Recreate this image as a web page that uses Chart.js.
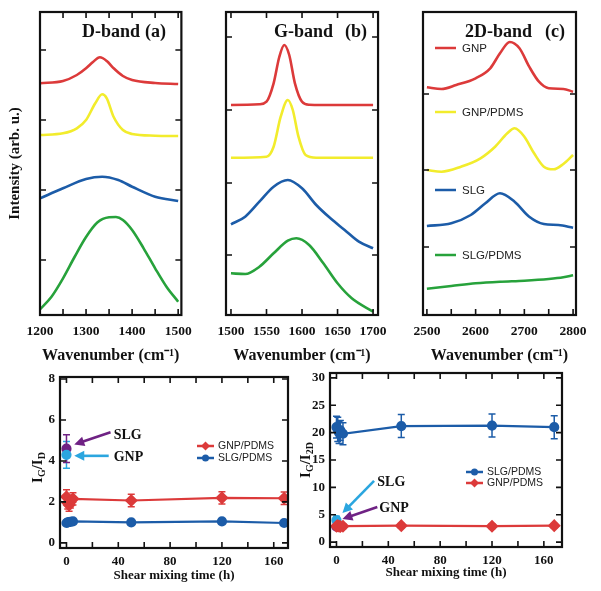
<!DOCTYPE html>
<html>
<head>
<meta charset="utf-8">
<script src="https://cdn.jsdelivr.net/npm/chart.js@4.4.1/dist/chart.umd.min.js"></script>
<style>
  body { margin: 0; background: #fff; }
  #wrap { position: relative; width: 601px; height: 591px; background: #fff; }
  canvas { position: absolute; }
</style>
</head>
<body>
<div id="wrap">
  <canvas id="chA" width="200" height="372" style="left:0;top:0"></canvas>
  <canvas id="chB" width="190" height="372" style="left:205px;top:0"></canvas>
  <canvas id="chC" width="201" height="372" style="left:400px;top:0"></canvas>
  <canvas id="chD" width="300" height="231" style="left:0;top:360px"></canvas>
  <canvas id="chE" width="311" height="231" style="left:290px;top:360px"></canvas>
</div>
<script>
/* Raman spectra + intensity ratios */
var serif = "'Liberation Serif', 'Times New Roman', serif";
var sans = "'Liberation Sans', Arial, sans-serif";

// colors
var cRed = "#dc3a3a", cYellow = "#f2ec2c", cBlue = "#1c5ca8", cGreen = "#27a23b";
var cPurple = "#6f2284", cLight = "#2ba6df";

// D band (intensity in arb. u.)
var dRedX = [1200, 1250, 1280, 1300, 1315, 1330, 1345, 1360, 1380, 1400, 1450, 1500];
var dRedY = [231.7, 234, 240, 246.7, 253, 257.7, 254, 246.7, 239, 235, 232, 231];
var dYelX = [1200, 1250, 1280, 1300, 1320, 1335, 1345, 1360, 1380, 1400, 1450, 1500];
var dYelY = [180, 181.7, 186.7, 195, 211.7, 220.7, 216.7, 198, 185, 181, 179.3, 179];
var dBluX = [1200, 1250, 1300, 1335, 1370, 1400, 1450, 1500];
var dBluY = [116.7, 126.7, 136, 138.3, 135, 128.3, 118.3, 114];
var dGrnX = [1200, 1225, 1250, 1275, 1300, 1325, 1350, 1365, 1380, 1400, 1425, 1450, 1475, 1500];
var dGrnY = [5.7, 18.3, 36.7, 58, 78, 92.7, 97.7, 98, 95, 85, 66.7, 46.7, 28, 13.3];

// G band
var gRedX = [1500, 1540, 1550, 1560, 1568, 1575, 1582, 1590, 1600, 1610, 1650, 1700];
var gRedY = [210, 210.7, 213.3, 231.7, 258, 270, 260, 231.7, 213.3, 210.3, 210, 210];
var gYelX = [1500, 1550, 1560, 1570, 1580, 1587, 1595, 1605, 1620, 1700];
var gYelY = [157.3, 158.3, 168.3, 198.3, 215, 205, 178.3, 160, 157.3, 157.3];
var gBluX = [1500, 1520, 1540, 1560, 1580, 1600, 1620, 1640, 1660, 1680, 1700];
var gBluY = [90.7, 98.3, 113.3, 128.3, 135, 126.7, 110, 96.7, 85, 73.3, 66.7];
var gGrnX = [1500, 1520, 1540, 1560, 1580, 1592, 1610, 1630, 1650, 1670, 1700];
var gGrnY = [41.7, 41, 48.3, 61.7, 74.3, 76.7, 70, 51.7, 31.7, 16.7, 3.3];

// 2D band
var tRedX = [2500, 2530, 2560, 2600, 2630, 2650, 2670, 2690, 2710, 2730, 2750, 2780, 2800];
var tRedY = [227.7, 226, 230, 236.7, 246.7, 261.7, 273, 266.7, 248.3, 233.3, 226.7, 226, 223.3];
var tYelX = [2500, 2530, 2570, 2610, 2640, 2665, 2680, 2700, 2720, 2740, 2760, 2780, 2800];
var tYelY = [145, 143.3, 148.3, 156.7, 168.3, 181.7, 186.7, 178.3, 161.7, 148.3, 145.7, 151, 160];
var tBluX = [2500, 2550, 2590, 2620, 2650, 2680, 2710, 2740, 2770, 2800];
var tBluY = [89, 91.7, 100, 111.7, 121.7, 113.3, 98.3, 91, 90, 87.3];
var tGrnX = [2500, 2550, 2600, 2650, 2700, 2750, 2780, 2800];
var tGrnY = [26.3, 29, 31.7, 33.3, 34.3, 36, 37.7, 39.7];

var specNames = ["GNP", "GNP/PDMS", "SLG", "SLG/PDMS"];

// axis ticks
var aXTicks = [1200, 1250, 1300, 1350, 1400, 1450, 1500];
var bXTicks = [1500, 1550, 1600, 1650, 1700];
var cXTicks = [2500, 2550, 2600, 2650, 2700, 2750, 2800];
var aYTicks = [55, 125, 195, 265];
var bYTicks = [60, 132, 205, 278];
var cYTicks = [68, 145, 221];
var timeTicks = [0, 20, 40, 60, 80, 100, 120, 140, 160];
var dYTicks = [0, 2, 4, 6, 8];
var eYTicks = [0, 5, 10, 15, 20, 25, 30];

// ratio data: shear mixing time (h)
var mixTime = [0, 1, 2, 3, 5, 50, 120, 168];
// (d) IG/ID
var dGnpPdms = [2.25, 1.95, 1.85, 2.0, 2.15, 2.07, 2.2, 2.18];
var dGnpPdmsErr = [0.35, 0.3, 0.3, 0.3, 0.3, 0.3, 0.3, 0.3];
var dSlgPdms = [0.97, 1.0, 1.02, 1.03, 1.05, 1.0, 1.05, 0.97];
var dSlgPdmsErr = [0.1, 0.1, 0.1, 0.1, 0.1, 0.1, 0.1, 0.1];
var dSlg = [4.6], dSlgErr = [0.68];
var dGnp = [4.3], dGnpErr = [0.65];
// (e) IG/I2D
var eSlgPdms = [21.0, 20.6, 20.0, 20.4, 19.8, 21.2, 21.3, 21.0];
var eSlgPdmsErr = [2.0, 2.2, 2.0, 1.8, 2.0, 2.1, 2.1, 2.1];
var eGnpPdms = [2.9, 3.0, 2.9, 2.85, 2.9, 3.0, 2.9, 3.0];
var eGnpPdmsErr = [0.4, 0.4, 0.4, 0.4, 0.4, 0.4, 0.4, 0.4];
var eSlg = [4.0], eSlgErr = [0.7];
var eGnp = [2.8], eGnpErr = [0.4];

function pts(xs, ys) {
  return xs.map(function (x, i) { return { x: x, y: ys[i] }; });
}

function setTicks(vals) {
  return function (s) { s.ticks = vals.map(function (v) { return { value: v }; }); };
}

// box + inward tick marks on every side
var framePlugin = {
  id: "frame",
  afterDraw: function (chart) {
    var a = chart.chartArea, ctx = chart.ctx;
    var xs = chart.scales.x, ys = chart.scales.y;
    var noTop = chart.canvas.id === "chC";
    ctx.save();
    ctx.strokeStyle = "#111";
    ctx.lineWidth = 1.6;
    ctx.beginPath();
    xs.ticks.forEach(function (t) {
      var px = xs.getPixelForValue(t.value);
      ctx.moveTo(px, a.bottom); ctx.lineTo(px, a.bottom - 6);
      if (!noTop) { ctx.moveTo(px, a.top); ctx.lineTo(px, a.top + 6); }
    });
    ys.ticks.forEach(function (t) {
      var py = ys.getPixelForValue(t.value);
      ctx.moveTo(a.left, py); ctx.lineTo(a.left + 6, py);
      ctx.moveTo(a.right, py); ctx.lineTo(a.right - 6, py);
    });
    ctx.stroke();
    ctx.lineWidth = 2.2;
    ctx.strokeRect(a.left, a.top, a.right - a.left, a.bottom - a.top);
    ctx.restore();
  }
};

var errorBars = {
  id: "errorBars",
  beforeDatasetsDraw: function (chart) {
    var ctx = chart.ctx, ys = chart.scales.y;
    chart.data.datasets.forEach(function (ds, i) {
      if (!ds.errors) return;
      var meta = chart.getDatasetMeta(i);
      ctx.save();
      ctx.strokeStyle = ds.borderColor;
      ctx.lineWidth = 1.5;
      ctx.beginPath();
      meta.data.forEach(function (pt, j) {
        var v = ds.data[j].y, e = ds.errors[j];
        var y1 = ys.getPixelForValue(v + e), y2 = ys.getPixelForValue(v - e);
        ctx.moveTo(pt.x, y1); ctx.lineTo(pt.x, y2);
        ctx.moveTo(pt.x - 3.5, y1); ctx.lineTo(pt.x + 3.5, y1);
        ctx.moveTo(pt.x - 3.5, y2); ctx.lineTo(pt.x + 3.5, y2);
      });
      ctx.stroke();
      ctx.restore();
    });
  }
};

function arrow(chart, x1, y1, x2, y2, color) {
  var ctx = chart.ctx, xs = chart.scales.x, ys = chart.scales.y;
  var ax = xs.getPixelForValue(x1), ay = ys.getPixelForValue(y1);
  var bx = xs.getPixelForValue(x2), by = ys.getPixelForValue(y2);
  var ang = Math.atan2(by - ay, bx - ax);
  ctx.save();
  ctx.strokeStyle = color; ctx.fillStyle = color; ctx.lineWidth = 2.6;
  ctx.beginPath();
  ctx.moveTo(ax, ay);
  ctx.lineTo(bx - 7 * Math.cos(ang), by - 7 * Math.sin(ang));
  ctx.stroke();
  ctx.beginPath();
  ctx.moveTo(bx, by);
  ctx.lineTo(bx - 10 * Math.cos(ang) + 5 * Math.sin(ang), by - 10 * Math.sin(ang) - 5 * Math.cos(ang));
  ctx.lineTo(bx - 10 * Math.cos(ang) - 5 * Math.sin(ang), by - 10 * Math.sin(ang) + 5 * Math.cos(ang));
  ctx.closePath();
  ctx.fill();
  ctx.restore();
}

function text(ctx, s, x, y, font, color, align) {
  ctx.save();
  ctx.font = font;
  ctx.fillStyle = color || "#111";
  ctx.textAlign = align || "left";
  ctx.textBaseline = "alphabetic";
  ctx.fillText(s, x, y);
  ctx.restore();
}

// rotated title with subscripts, e.g. I_G / I_D
function subTitle(ctx, cx, cy, parts) {
  var big = "bold 15px " + serif, small = "bold 10px " + serif;
  ctx.save();
  ctx.translate(cx, cy);
  ctx.rotate(-Math.PI / 2);
  var w = 0;
  parts.forEach(function (p) { ctx.font = p[1] ? small : big; w += ctx.measureText(p[0]).width; });
  var x = -w / 2;
  ctx.fillStyle = "#111";
  ctx.textBaseline = "middle";
  parts.forEach(function (p) {
    ctx.font = p[1] ? small : big;
    ctx.fillText(p[0], x, p[1] ? 4 : 0);
    x += ctx.measureText(p[0]).width;
  });
  ctx.restore();
}

function legendRow(ctx, x, y, color, label, marker, size) {
  ctx.save();
  ctx.strokeStyle = color; ctx.fillStyle = color; ctx.lineWidth = 2.5;
  ctx.beginPath(); ctx.moveTo(x, y); ctx.lineTo(x + (marker ? 17 : 21), y); ctx.stroke();
  if (marker === "circle") {
    ctx.beginPath(); ctx.arc(x + 8.5, y, 3.5, 0, Math.PI * 2); ctx.fill();
  } else if (marker === "diamond") {
    ctx.beginPath();
    ctx.moveTo(x + 8.5, y - 4.5); ctx.lineTo(x + 13, y); ctx.lineTo(x + 8.5, y + 4.5); ctx.lineTo(x + 4, y);
    ctx.closePath(); ctx.fill();
  }
  ctx.font = size + "px " + sans;
  ctx.fillStyle = "#222";
  ctx.textBaseline = "middle";
  ctx.fillText(label, x + (marker ? 21 : 27), y + 0.5);
  ctx.restore();
}

function specSet(xs, ys, color) {
  return {
    data: pts(xs, ys), borderColor: color, borderWidth: 2.6,
    pointRadius: 0, showLine: true, cubicInterpolationMode: "monotone"
  };
}

function spectrum(id, opt) {
  return new Chart(document.getElementById(id), {
    type: "scatter",
    data: { datasets: opt.sets },
    options: {
      responsive: false, animation: false,
      layout: { padding: { top: 12, right: opt.padRight, left: 0, bottom: 0 } },
      plugins: { legend: { display: false }, tooltip: { enabled: false } },
      scales: {
        x: {
          type: "linear", min: opt.xMin, max: opt.xMax,
          afterBuildTicks: setTicks(opt.xTicks),
          afterFit: function (s) { s.height = 57; },
          grid: { display: false, drawTicks: false }, border: { display: false },
          ticks: {
            padding: 8, color: "#111", autoSkip: false, maxRotation: 0,
            font: { family: serif, size: 13.5, weight: "bold" },
            callback: function (v) { return v % opt.labelEvery === 0 ? String(v) : ""; }
          },
          title: {
            display: true, text: "Wavenumber (cm\u207B\u00B9)", color: "#111", padding: 7,
            font: { family: serif, size: 16, weight: "bold" }
          }
        },
        y: {
          min: 0, max: 303,
          afterBuildTicks: setTicks(opt.yTicks),
          afterFit: function (s) { s.width = opt.yWidth; },
          grid: { display: false, drawTicks: false }, border: { display: false },
          ticks: { display: false },
          title: {
            display: !!opt.yTitle, text: opt.yTitle || "", color: "#111", padding: 6,
            font: { family: serif, size: 15, weight: "bold" }
          }
        }
      }
    },
    plugins: [framePlugin, {
      id: "bandTitle",
      afterDraw: function (chart) {
        var a = chart.chartArea;
        text(chart.ctx, opt.title, a.left + opt.titleX, 37, "bold 18px " + serif);
        text(chart.ctx, opt.tag, a.left + opt.tagX, 37, "bold 18px " + serif);
        if (opt.legend) {
          var colors = [cRed, cYellow, cBlue, cGreen];
          [48, 112, 190, 255].forEach(function (y, i) {
            legendRow(chart.ctx, a.left + 12, y, colors[i], specNames[i], null, 11.5);
          });
        }
      }
    }]
  });
}

spectrum("chA", {
  xMin: 1200, xMax: 1507, xTicks: aXTicks, yTicks: aYTicks, labelEvery: 100,
  yWidth: 40, padRight: 15, yTitle: "Intensity (arb. u.)",
  title: "D-band", titleX: 42, tag: "(a)", tagX: 105,
  sets: [specSet(dRedX, dRedY, cRed), specSet(dYelX, dYelY, cYellow),
         specSet(dBluX, dBluY, cBlue), specSet(dGrnX, dGrnY, cGreen)]
});

spectrum("chB", {
  xMin: 1493, xMax: 1707, xTicks: bXTicks, yTicks: bYTicks, labelEvery: 50,
  yWidth: 21, padRight: 13,
  title: "G-band", titleX: 48, tag: "(b)", tagX: 119,
  sets: [specSet(gRedX, gRedY, cRed), specSet(gYelX, gYelY, cYellow),
         specSet(gBluX, gBluY, cBlue), specSet(gGrnX, gGrnY, cGreen)]
});

spectrum("chC", {
  xMin: 2492, xMax: 2806, xTicks: cXTicks, yTicks: cYTicks, labelEvery: 100,
  yWidth: 23, padRight: 25, legend: true,
  title: "2D-band", titleX: 42, tag: "(c)", tagX: 122,
  sets: [specSet(tRedX, tRedY, cRed), specSet(tYelX, tYelY, cYellow),
         specSet(tBluX, tBluY, cBlue), specSet(tGrnX, tGrnY, cGreen)]
});

function ratioSet(ys, errs, color, shape, line, times) {
  return {
    data: pts(times || mixTime, ys), errors: errs,
    borderColor: color, backgroundColor: color, borderWidth: 2.2,
    pointStyle: shape, pointRadius: shape === "rectRot" ? 5 : 4,
    showLine: line
  };
}

function ratioChart(id, opt) {
  return new Chart(document.getElementById(id), {
    type: "scatter",
    data: { datasets: opt.sets },
    options: {
      responsive: false, animation: false,
      layout: { padding: { top: opt.padTop, right: opt.padRight, left: 0, bottom: 0 } },
      plugins: { legend: { display: false }, tooltip: { enabled: false } },
      scales: {
        x: {
          type: "linear", min: -5, max: opt.xMax,
          afterBuildTicks: setTicks(timeTicks),
          afterFit: function (s) { s.height = opt.xHeight; },
          grid: { display: false, drawTicks: false }, border: { display: false },
          ticks: {
            padding: 6, color: "#111", autoSkip: false, maxRotation: 0,
            font: { family: serif, size: 13, weight: "bold" },
            callback: function (v) { return v % 40 === 0 ? String(v) : ""; }
          },
          title: {
            display: true, text: "Shear mixing time (h)", color: "#111", padding: opt.titlePad,
            font: { family: serif, size: 13, weight: "bold" }
          }
        },
        y: {
          min: opt.yMin, max: opt.yMax,
          afterBuildTicks: setTicks(opt.yTicks),
          afterFit: function (s) { s.width = opt.yWidth; },
          grid: { display: false, drawTicks: false }, border: { display: false },
          ticks: {
            padding: 5, color: "#111",
            font: { family: serif, size: 13, weight: "bold" },
            callback: function (v) { return v % opt.yLabelEvery === 0 ? String(v) : ""; }
          }
        }
      }
    },
    plugins: [errorBars, framePlugin, { id: "deco", afterDraw: opt.deco }]
  });
}

ratioChart("chD", {
  padTop: 17, padRight: 12, xHeight: 43, titlePad: 8, yWidth: 60, xMax: 171,
  yMin: -0.25, yMax: 8.1, yTicks: dYTicks, yLabelEvery: 2,
  sets: [
    ratioSet(dGnpPdms, dGnpPdmsErr, cRed, "rectRot", true),
    ratioSet(dSlgPdms, dSlgPdmsErr, cBlue, "circle", true),
    ratioSet(dGnp, dGnpErr, cLight, "circle", false, [0]),
    ratioSet(dSlg, dSlgErr, cPurple, "circle", false, [0])
  ],
  deco: function (chart) {
    var ctx = chart.ctx, a = chart.chartArea, xs = chart.scales.x, ys = chart.scales.y;
    subTitle(ctx, 38, (a.top + a.bottom) / 2 + 5, [["I", 0], ["G", 1], ["/I", 0], ["D", 1]]);
    text(ctx, "(d)", a.left + 189, 399, "bold 18px " + serif);
    legendRow(ctx, a.left + 137, 86, cRed, "GNP/PDMS", "diamond", 10.5);
    legendRow(ctx, a.left + 137, 98, cBlue, "SLG/PDMS", "circle", 10.5);
    arrow(chart, 34, 5.4, 6, 4.8, cPurple);
    arrow(chart, 32.6, 4.25, 6, 4.25, cLight);
    text(ctx, "SLG", xs.getPixelForValue(36.4), ys.getPixelForValue(5.3) + 5, "bold 14px " + serif);
    text(ctx, "GNP", xs.getPixelForValue(36.4), ys.getPixelForValue(4.25) + 5, "bold 14px " + serif);
  }
});

ratioChart("chE", {
  padTop: 13, padRight: 39, xHeight: 44, titlePad: 11, yWidth: 40, xMax: 174,
  yMin: -0.9, yMax: 30.9, yTicks: eYTicks, yLabelEvery: 5,
  sets: [
    ratioSet(eSlgPdms, eSlgPdmsErr, cBlue, "circle", true),
    ratioSet(eGnpPdms, eGnpPdmsErr, cRed, "rectRot", true),
    ratioSet(eSlg, eSlgErr, cLight, "circle", false, [0]),
    ratioSet(eGnp, eGnpErr, cPurple, "circle", false, [0])
  ],
  deco: function (chart) {
    var ctx = chart.ctx, a = chart.chartArea, xs = chart.scales.x, ys = chart.scales.y;
    subTitle(ctx, 16, (a.top + a.bottom) / 2, [["I", 0], ["G", 1], ["/I", 0], ["2D", 1]]);
    text(ctx, "(e)", a.left + 196, 399, "bold 18px " + serif);
    legendRow(ctx, a.left + 136, 112, cBlue, "SLG/PDMS", "circle", 10.5);
    legendRow(ctx, a.left + 136, 123, cRed, "GNP/PDMS", "diamond", 10.5);
    arrow(chart, 29, 11.2, 4.6, 5.3, cLight);
    arrow(chart, 31.5, 6.4, 4.6, 4.2, cPurple);
    text(ctx, "SLG", xs.getPixelForValue(31.5), ys.getPixelForValue(11.2) + 5, "bold 14px " + serif);
    text(ctx, "GNP", xs.getPixelForValue(33), ys.getPixelForValue(6.4) + 5, "bold 14px " + serif);
  }
});
</script>
</body>
</html>
